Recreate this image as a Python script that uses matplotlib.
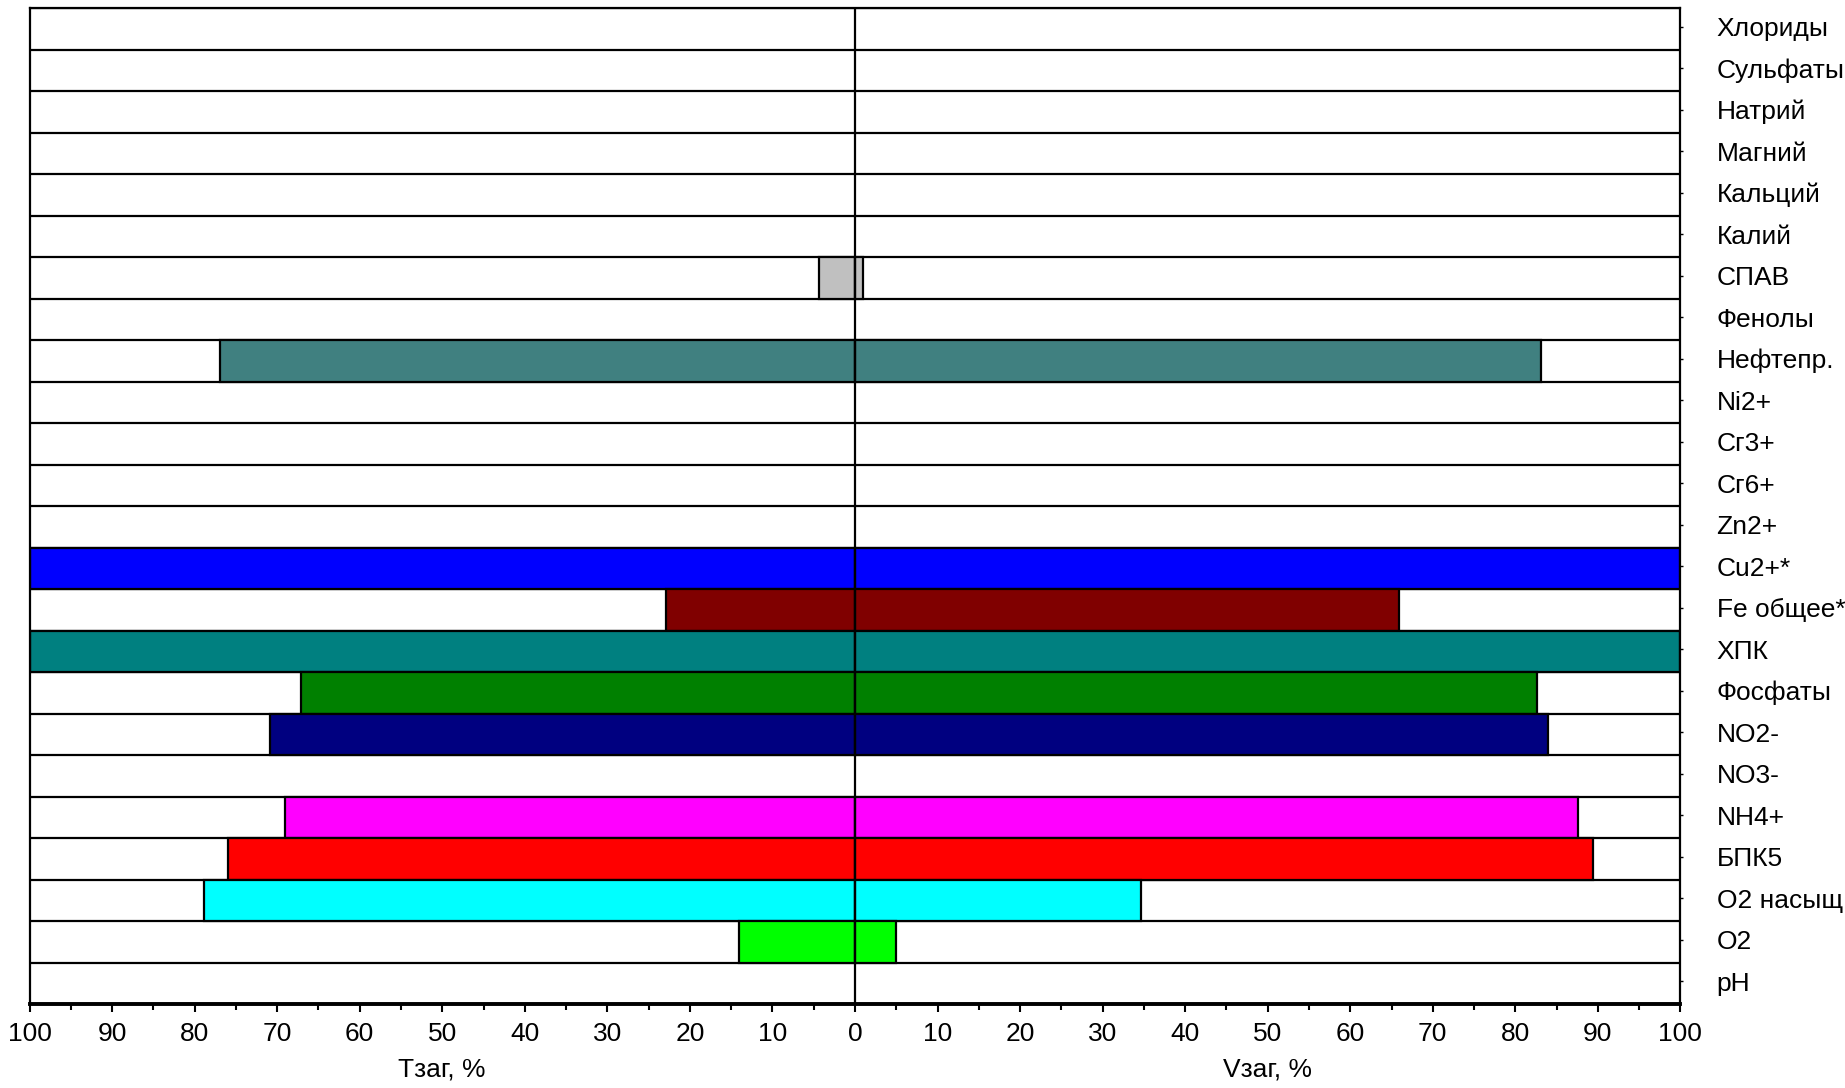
import matplotlib.pyplot as plt
import numpy as np

plt.rcParams['font.family'] = ['Liberation Sans', 'DejaVu Sans']

# rows from top to bottom
categories = ['Хлориды', 'Сульфаты', 'Натрий', 'Магний', 'Кальций', 'Калий',
              'СПАВ', 'Фенолы', 'Нефтепр.', 'Ni2+', 'Cг3+', 'Cг6+', 'Zn2+',
              'Cu2+*', 'Fe общее*', 'ХПК', 'Фосфаты', 'NO2-', 'NO3-', 'NH4+',
              'БПК5', 'O2 насыщ', 'O2', 'pH']
# Тзаг, % (left side)
t_zag = [0, 0, 0, 0, 0, 0, 4.3, 0, 76.9, 0, 0, 0, 0,
         100, 22.9, 100, 67.1, 70.9, 0, 69.1, 75.9, 78.9, 14.1, 0]
# Vзаг, % (right side)
v_zag = [0, 0, 0, 0, 0, 0, 1.0, 0, 83.1, 0, 0, 0, 0,
         100, 65.9, 100, 82.6, 83.9, 0, 87.6, 89.4, 34.6, 5.0, 0]
bar_colors = ['w', 'w', 'w', 'w', 'w', 'w', '#C0C0C0', 'w', '#408080', 'w', 'w', 'w', 'w',
              '#0000FF', '#800000', '#008080', '#008000', '#000080', 'w', '#FF00FF',
              '#FF0000', '#00FFFF', '#00FF00', 'w']

n = len(categories)
y = np.arange(n)
fs = 19

fig = plt.figure(figsize=(18.45, 10.88), dpi=100)
ax = fig.add_axes([0.016, 0.0772, 0.8948, 0.9154])

# row separators
for b in np.arange(n + 1) - 0.5:
    ax.axhline(b, color='black', lw=1.6, zorder=1)

t = np.array(t_zag)
v = np.array(v_zag)
mask = t > 0
ax.barh(y[mask], -t[mask], height=1.0, color=np.array(bar_colors)[mask],
        edgecolor='black', lw=1.6, zorder=2)
mask = v > 0
ax.barh(y[mask], v[mask], height=1.0, color=np.array(bar_colors)[mask],
        edgecolor='black', lw=1.6, zorder=2)

ax.axvline(0, color='black', lw=1.6, zorder=3)

ax.set_xlim(-100, 100)
ax.set_ylim(n - 0.5, -0.5)

ax.set_xticks(np.arange(-100, 101, 10))
ax.set_xticklabels([str(abs(x)) for x in range(-100, 101, 10)], fontsize=fs)
ax.set_xticks(np.arange(-95, 100, 10), minor=True)
ax.tick_params(axis='x', which='major', direction='out', length=6, width=1.5, pad=7)
ax.tick_params(axis='x', which='minor', direction='out', length=4, width=1.5)

ax.yaxis.tick_right()
ax.set_yticks(y - 0.05)
ax.set_yticklabels(categories, fontsize=fs)
ax.tick_params(axis='y', direction='out', length=2, width=1, pad=24)

for s in ['left', 'right', 'top']:
    ax.spines[s].set_linewidth(1.6)
ax.spines['bottom'].set_linewidth(2.8)

ax.text(-50, -0.066, 'Тзаг, %', transform=ax.get_xaxis_transform(),
        ha='center', va='center', fontsize=fs)
ax.text(50, -0.066, 'Vзаг, %', transform=ax.get_xaxis_transform(),
        ha='center', va='center', fontsize=fs)

fig.savefig('out.png', dpi=100)
